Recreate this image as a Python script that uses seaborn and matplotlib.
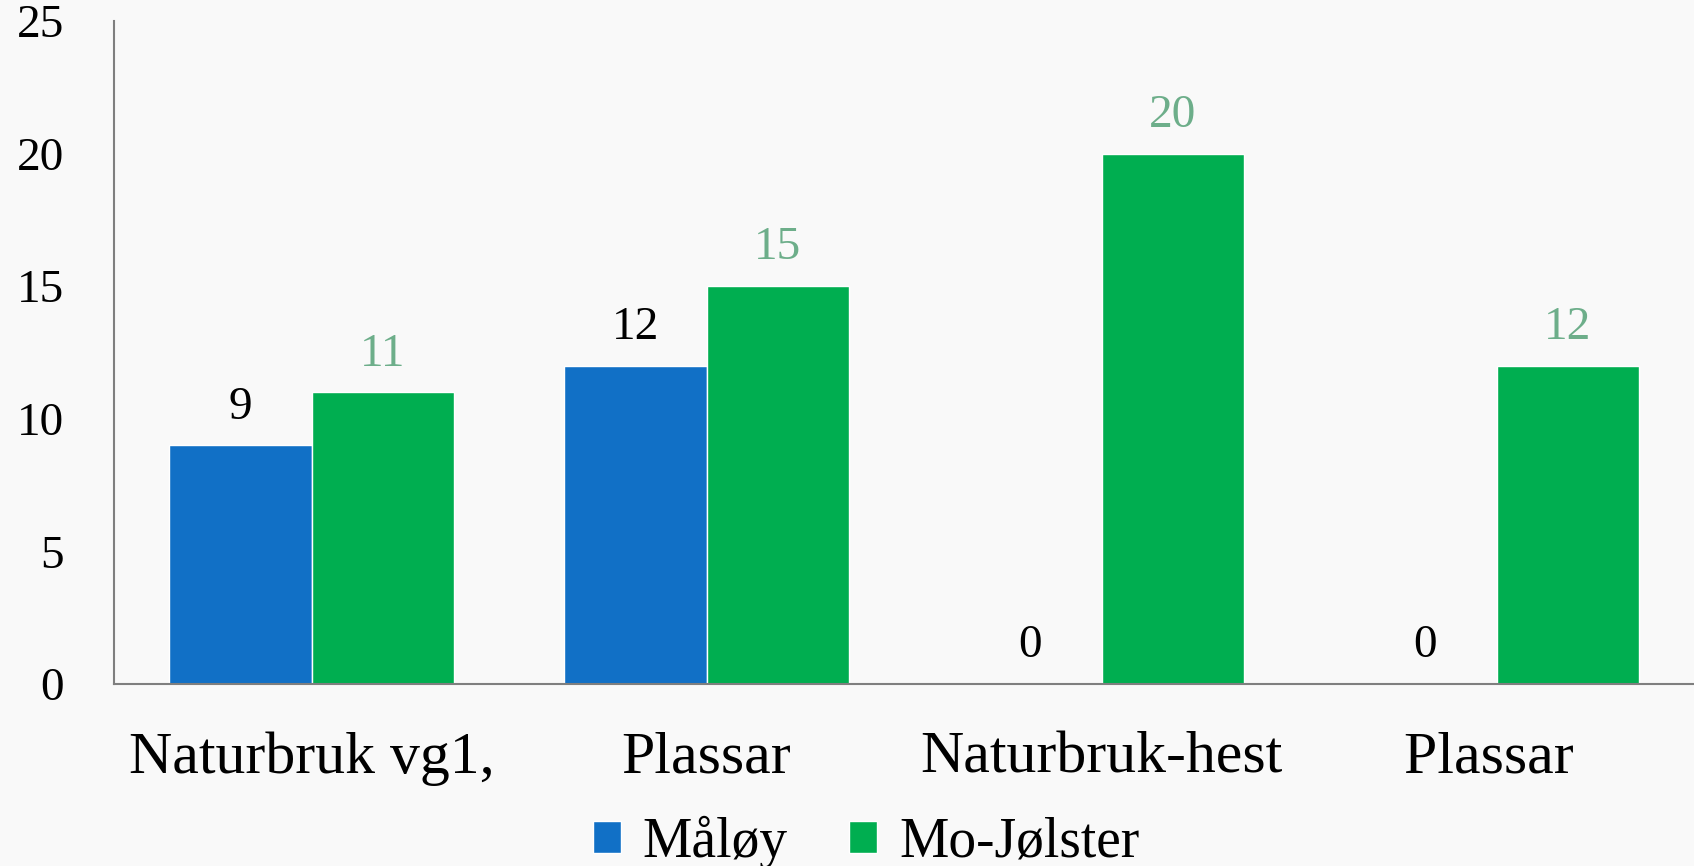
import pandas as pd
import matplotlib.pyplot as plt
import seaborn as sns

# chart data
categories = ["Naturbruk vg1,", "Plassar", "Naturbruk-hest", "Plassar "]
series_names = ["Måløy", "Mo-Jølster"]
maloy = [9, 12, 0, 0]
mo_jolster = [11, 15, 20, 12]
y_ticks = [0, 5, 10, 15, 20, 25]

colors = {"Måløy": "#1170C6", "Mo-Jølster": "#00AE50"}
label_colors = {"Måløy": "#000000", "Mo-Jølster": "#6DAE8A"}
BG = "#F9F9F9"

df = pd.DataFrame({
    "kategori": categories * 2,
    "serie": [series_names[0]] * 4 + [series_names[1]] * 4,
    "verdi": maloy + mo_jolster,
})

sns.set_style("white")
plt.rcParams["font.family"] = ["Liberation Serif", "DejaVu Serif"]
plt.rcParams["text.color"] = "black"
plt.rcParams["xtick.color"] = "black"
plt.rcParams["ytick.color"] = "black"

fig = plt.figure(figsize=(16.94, 8.66), dpi=100, facecolor=BG)
ax = fig.add_axes([0.0673, 0.2102, 0.9327, 0.7656])
ax.set_facecolor(BG)

sns.barplot(data=df, x="kategori", y="verdi", hue="serie", order=categories,
            hue_order=series_names, palette=colors, width=0.72, saturation=1,
            ax=ax)

for cont, name in zip(ax.containers, series_names):
    ax.bar_label(cont, fmt="%d", padding=12, fontsize=34,
                 color=label_colors[name])

ax.set_ylim(0, 25)
ax.set_yticks(y_ticks)
ax.set_xlabel("")
ax.set_ylabel("")
ax.tick_params(axis="y", length=0, pad=36, labelsize=34)
ax.tick_params(axis="x", length=0, pad=34, labelsize=43)

for side in ["top", "right"]:
    ax.spines[side].set_visible(False)
for side in ["left", "bottom"]:
    ax.spines[side].set_color("#7F7F7F")
    ax.spines[side].set_linewidth(1.5)

ax.legend(loc="lower center", bbox_to_anchor=(0.476, -0.312), ncol=2,
          frameon=False, fontsize=40, handlelength=0.5, handleheight=0.5,
          handletextpad=0.4, columnspacing=1.1, borderaxespad=0)

fig.savefig("out.png", dpi=100, facecolor=BG)
